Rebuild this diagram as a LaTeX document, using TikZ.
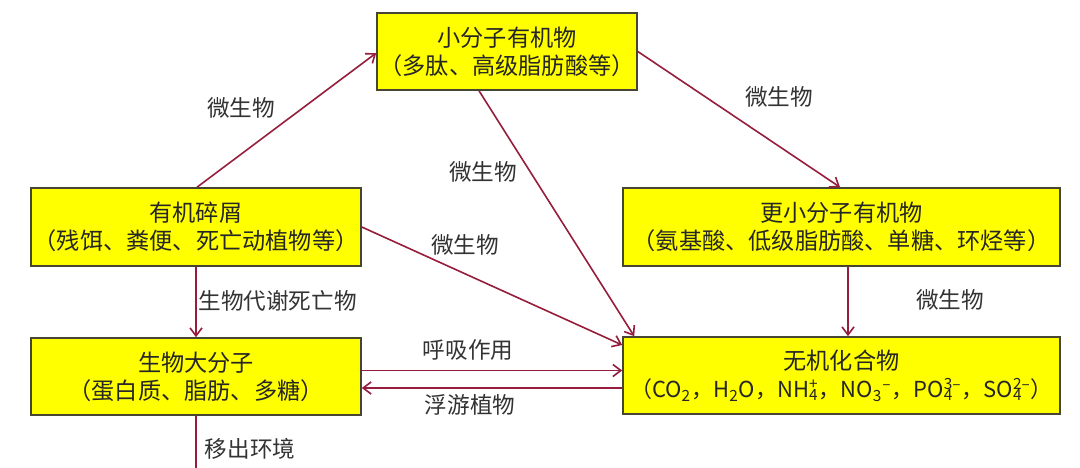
\documentclass[tikz,border=0pt]{standalone}
\usepackage{fontspec}
\setmainfont{Noto Sans CJK SC}
\usepackage{xcolor}
\usepackage{tikz}
\usetikzlibrary{calc}
\usetikzlibrary{arrows.meta,positioning}
\definecolor{boxyellow}{RGB}{255,255,0}
\definecolor{boxedge}{RGB}{70,70,50}
\definecolor{arrowred}{RGB}{150,30,60}
\newcommand{\chemion}[2]{\rlap{\textsubscript{#1}}\textsuperscript{#2}}

\begin{document}
\begin{tikzpicture}[x=0.5pt,y=-0.5pt,
	box/.style={draw=boxedge,line width=0.8pt,fill=boxyellow,align=center,inner sep=0pt,font=\fontsize{11.6}{14}\selectfont,text=black!85},
	flow/.style={draw=arrowred,line width=0.8pt,-{Straight Barb[length=4pt,width=6pt]}},
	lbl/.style={font=\fontsize{11.3}{14}\selectfont,text=black!80}]
		\fill[white] (0,0) rectangle (1080,467);
		\useasboundingbox (0,0) rectangle (1080,467);
		% boxes
		\node[box,minimum width=130pt,minimum height=38.5pt] (small) at (507,51.5) {小分子有机物\\（多肽、高级脂肪酸等）};
		\node[box,minimum width=165pt,minimum height=39pt] (detritus) at (196,227) {有机碎屑\\（残饵、粪便、死亡动植物等）};
		\node[box,minimum width=165pt,minimum height=38.5pt] (macro) at (196,376.5) {生物大分子\\（蛋白质、脂肪、多糖）};
		\node[box,minimum width=218.5pt,minimum height=39pt] (smaller) at (841.5,227) {更小分子有机物\\（氨基酸、低级脂肪酸、单糖、环烃等）};
		\node[box,minimum width=218.5pt,minimum height=38.5pt] (inorg) at (841.5,375.5) {无机化合物\\{\fontsize{11}{14}\selectfont（CO\textsubscript{2}，H\textsubscript{2}O，NH\chemion{4}{+}，NO\textsubscript{3}\textsuperscript{–}，PO\chemion{4}{3–}，SO\chemion{4}{2–}）}};
		% arrows
		\draw[flow] ($(detritus.north)+(1,0)$) -- ($(small.west)+(0,1.5)$);
		\draw[flow] (small.east) -- ($(smaller.north)+(-1.5,0)$);
		\draw[flow] ($(small.south)+(-28,0)$) -- ($(inorg.north west)+(12,0)$);
		\draw[flow] (detritus.east) -- ($(inorg.west)+(0,-30.5)$);
		\draw[flow] ($(smaller.south)+(6.5,0)$) -- ($(inorg.north)+(6.5,0)$);
		\draw[flow] (detritus.south) -- (macro.north);
		\draw[flow] ($(macro.east)+(0,-6)$) coordinate (resp) -- (resp -| inorg.west);
		\draw[flow] ($(inorg.west)+(0,12.5)$) coordinate (phyto) -- (phyto -| macro.east);
		\coordinate (exit) at (196,480);
		\draw[draw=arrowred,line width=0.8pt] (macro.south) -- (exit);
		% labels
		\node[lbl] (l1) at (241,108) {微生物};
		\node[lbl] (l2) at (779,97) {微生物};
		\node[lbl] (l3) at (483,172) {微生物};
		\node[lbl] (l4) at (465,245) {微生物};
		\node[lbl] (l5) at (950,300) {微生物};
		\node[lbl] (l6) at (277.5,301) {生物代谢死亡物};
		\node[lbl] (l7) at (468,350) {呼吸作用};
		\node[lbl] (l8) at (470,405) {浮游植物};
		\node[lbl] (l9) at (250,449) {移出环境};
	\end{tikzpicture}
\end{document}
